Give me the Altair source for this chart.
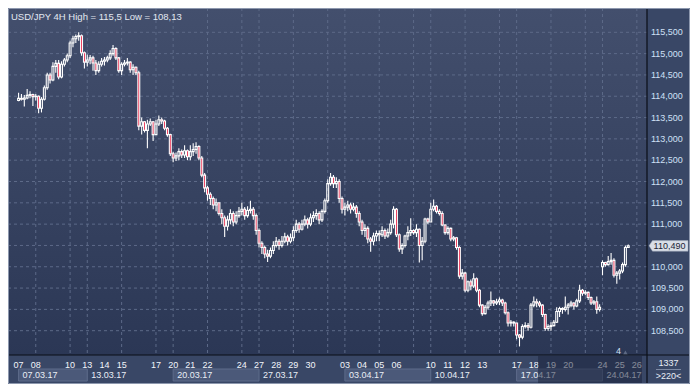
import altair as alt
import pandas as pd

# ---------------- data (USD/JPY 4H candles) ----------------
first_open = 113.90
gap_index = 204          # Monday 24.04 opens with a gap
gap_open = 110.00

closes = [
    113.95, 113.93, 113.96, 114.02, 114.04, 113.99,
    114.00, 113.72, 113.93, 114.20, 114.50, 114.38,
    114.70, 114.77, 114.45, 114.75, 114.85, 114.95,
    115.25, 115.35, 115.40, 115.42, 115.02, 114.80,
    114.85, 114.90, 114.78, 114.60, 114.75, 114.82,
    114.85, 114.90, 115.00, 115.12, 114.90, 114.60,
    114.75, 114.78, 114.80, 114.62, 114.68, 114.55,
    113.30, 113.40, 113.20, 113.35, 113.40, 113.10,
    113.35, 113.45, 113.42, 113.25, 113.10, 112.65,
    112.55, 112.60, 112.70, 112.62, 112.72, 112.58,
    112.70, 112.75, 112.82, 112.55, 112.15, 111.85,
    111.70, 111.60, 111.45, 111.50, 111.25, 111.15,
    110.95, 111.10, 111.25, 111.05, 111.20, 111.30,
    111.35, 111.20, 111.32, 111.35, 111.20, 110.85,
    110.55, 110.45, 110.30, 110.25, 110.38, 110.50,
    110.60, 110.50, 110.60, 110.70, 110.60, 110.68,
    110.85, 111.00, 110.88, 111.00, 111.10, 111.00,
    111.15, 111.20, 111.25, 111.10, 111.30, 111.55,
    111.95, 112.10, 111.95, 112.00, 111.60, 111.35,
    111.40, 111.45, 111.35, 111.40, 111.25, 111.05,
    110.85, 110.90, 110.65, 110.60, 110.72, 110.78,
    110.75, 110.85, 110.72, 110.80, 111.00, 111.35,
    110.75, 110.42, 110.50, 110.72, 110.80, 110.85,
    110.80, 110.88, 110.50, 110.60, 111.12, 111.05,
    111.35, 111.42, 111.30, 111.25, 110.98, 110.80,
    110.90, 110.65, 110.68, 110.45, 109.78, 109.85,
    109.45, 109.65, 109.55, 109.72, 109.45, 109.10,
    108.90, 109.05, 109.15, 109.20, 109.15, 109.18,
    109.22, 109.15, 108.92, 108.68, 108.70, 108.68,
    108.40, 108.35, 108.60, 108.62, 108.58, 109.10,
    109.18, 109.15, 109.10, 108.88, 108.55, 108.60,
    108.62, 108.70, 108.95, 109.02, 109.00, 109.05,
    109.10, 109.15, 109.08, 109.20, 109.45, 109.38,
    109.40, 109.28, 109.15, 109.18, 109.00, 109.05,
    110.10, 110.05, 110.12, 110.15, 109.80, 109.85,
    109.90, 110.05, 110.45, 110.49,
]
highs = [
    114.08, 114.05, 114.03, 114.17, 114.12, 114.06,
    114.05, 114.02, 113.98, 114.25, 114.55, 114.55,
    114.80, 114.85, 114.85, 114.82, 114.90, 115.00,
    115.30, 115.42, 115.45, 115.50, 115.45, 115.05,
    114.98, 114.97, 114.95, 114.85, 114.82, 114.90,
    114.92, 114.95, 115.08, 115.20, 115.15, 114.92,
    114.80, 114.85, 114.90, 114.82, 114.75, 114.70,
    114.60, 113.50, 113.42, 113.45, 113.48, 113.42,
    113.45, 113.55, 113.50, 113.45, 113.28, 113.12,
    112.70, 112.68, 112.78, 112.75, 112.85, 112.75,
    112.85, 112.90, 112.92, 112.85, 112.60, 112.20,
    111.90, 111.75, 111.65, 111.60, 111.50, 111.35,
    111.20, 111.20, 111.35, 111.30, 111.30, 111.40,
    111.50, 111.40, 111.42, 111.55, 111.40, 111.25,
    110.90, 110.60, 110.50, 110.40, 110.45, 110.60,
    110.70, 110.65, 110.72, 110.80, 110.75, 110.78,
    110.95, 111.10, 111.05, 111.10, 111.20, 111.15,
    111.25, 111.30, 111.35, 111.30, 111.35, 111.60,
    112.05, 112.20, 112.15, 112.10, 112.05, 111.65,
    111.50, 111.55, 111.50, 111.50, 111.45, 111.30,
    111.10, 111.00, 110.95, 110.70, 110.80, 110.85,
    110.85, 110.95, 110.90, 110.90, 111.10, 111.42,
    111.38, 110.78, 110.55, 110.75, 110.95, 111.14,
    110.88, 111.00, 110.90, 110.70, 111.15, 111.15,
    111.50, 111.58, 111.45, 111.35, 111.30, 111.00,
    110.95, 110.92, 110.72, 110.70, 110.48, 109.95,
    109.88, 109.68, 109.70, 109.85, 109.75, 109.48,
    109.12, 109.10, 109.20, 109.42, 109.22, 109.25,
    109.28, 109.25, 109.18, 108.95, 108.75, 108.72,
    108.65, 108.42, 108.65, 108.70, 108.68, 109.15,
    109.30, 109.25, 109.20, 109.12, 108.90, 108.65,
    108.70, 108.75, 109.05, 109.06, 109.05, 109.30,
    109.15, 109.20, 109.17, 109.25, 109.58, 109.48,
    109.45, 109.42, 109.30, 109.22, 109.30, 109.12,
    110.15, 110.12, 110.25, 110.32, 110.20, 109.90,
    109.95, 110.10, 110.50, 110.52,
]
lows = [
    113.88, 113.90, 113.76, 113.93, 113.95, 113.77,
    113.90, 113.60, 113.62, 113.90, 114.15, 114.30,
    114.35, 114.55, 114.40, 114.42, 114.70, 114.80,
    114.90, 115.15, 115.25, 115.30, 114.95, 114.65,
    114.70, 114.75, 114.60, 114.50, 114.55, 114.70,
    114.72, 114.80, 114.85, 114.95, 114.85, 114.55,
    114.50, 114.70, 114.72, 114.55, 114.50, 114.50,
    113.20, 113.10, 113.15, 112.78, 113.30, 112.95,
    113.10, 113.30, 113.35, 113.20, 113.05, 112.60,
    112.45, 112.48, 112.50, 112.55, 112.55, 112.50,
    112.50, 112.60, 112.65, 112.50, 112.10, 111.75,
    111.55, 111.45, 111.35, 111.30, 111.20, 111.00,
    110.70, 110.85, 111.00, 110.95, 111.00, 111.15,
    111.20, 111.10, 111.15, 111.25, 111.10, 110.75,
    110.45, 110.30, 110.20, 110.11, 110.20, 110.30,
    110.45, 110.40, 110.45, 110.55, 110.50, 110.55,
    110.60, 110.80, 110.80, 110.85, 110.95, 110.90,
    110.95, 111.05, 111.10, 111.00, 111.05, 111.25,
    111.50, 111.90, 111.85, 111.85, 111.50, 111.25,
    111.20, 111.30, 111.25, 111.30, 111.15, 110.95,
    110.75, 110.70, 110.55, 110.35, 110.50, 110.60,
    110.60, 110.70, 110.65, 110.68, 110.75, 110.90,
    110.70, 110.35, 110.30, 110.45, 110.62, 110.72,
    110.75, 110.70, 110.10, 110.15, 110.55, 111.00,
    111.05, 111.30, 111.25, 111.20, 110.95, 110.75,
    110.75, 110.60, 110.60, 110.40, 109.72, 109.70,
    109.40, 109.40, 109.45, 109.50, 109.40, 109.05,
    108.85, 108.88, 109.00, 109.08, 109.08, 109.10,
    109.10, 109.08, 108.88, 108.60, 108.60, 108.60,
    108.30, 108.13, 108.30, 108.55, 108.50, 108.55,
    109.05, 109.05, 109.05, 108.82, 108.50, 108.50,
    108.50, 108.60, 108.68, 108.82, 108.90, 108.95,
    108.88, 109.05, 109.00, 109.05, 109.15, 109.32,
    109.33, 109.22, 109.10, 109.10, 108.90, 108.95,
    109.80, 110.00, 110.03, 110.05, 109.75, 109.60,
    109.70, 109.85, 110.00, 110.44,
]

# trading-day numbers (0 = 07.03) and the day labels shown under the chart
day_num = [0, 1, 3, 4, 5, 6, 8, 9, 10, 11, 13, 14, 15, 16, 17, 19, 20, 21, 22,
           24, 25, 26, 27, 29, 30, 31, 32, 34, 35, 36]
day_text = ["07", "08", "10", "13", "14", "15", "17", "20", "21", "22", "24",
            "27", "28", "29", "30", "03", "04", "05", "06", "10", "11", "12",
            "13", "17", "18", "19", "20", "24", "25", "26"]
grid_days = [1, 3, 4, 6, 8, 9, 11, 13, 14, 16, 18, 19, 21, 23, 24, 26, 28, 29,
             31, 33, 34, 36]
week_day = [0, 4, 9, 14, 19, 24, 29, 34]
week_text = ["07.03.17", "13.03.17", "20.03.17", "27.03.17", "03.04.17",
             "10.04.17", "17.04.17", "24.04.17"]
week_box = [True, False, True, False, True, False, True, False]
price_ticks = [108.5, 109.0, 109.5, 110.0, 110.5, 111.0, 111.5, 112.0,
               112.5, 113.0, 113.5, 114.0, 114.5, 115.0, 115.5]
# 110,500 is hidden behind the current-price tag in the reference
price_labels = [108.5, 109.0, 109.5, 110.0, 111.0, 111.5, 112.0,
                112.5, 113.0, 113.5, 114.0, 114.5, 115.0, 115.5]
last_price = 110.49
title_text = "USD/JPY 4H High = 115,5 Low = 108,13"

# ---------------- layout / style ----------------
W, H = 639, 347
RP, BP = 43, 29
FONT = "Liberation Sans"
RED = "#e8173d"
CPD = 6  # candles per trading day

xscale = alt.Scale(domain=[-1.95, 217.8], nice=False, zero=False)
yscale = alt.Scale(domain=[107.93, 116.07], nice=False, zero=False)

n = len(closes)
opens = [first_open] + closes[:-1]
opens[gap_index] = gap_open
df = pd.DataFrame({"i": list(range(n)), "o": opens, "h": highs, "l": lows, "c": closes})
df["top"] = df[["o", "c"]].max(axis=1)
df["bot"] = df[["o", "c"]].min(axis=1)
df["down"] = df["c"] < df["o"]

one = pd.DataFrame({"k": [0]})


def X(f):
    return alt.X(f, type="quantitative", scale=xscale, axis=None)


def Y(f):
    return alt.Y(f, type="quantitative", scale=yscale, axis=None)


grad = alt.Gradient(gradient="linear",
                    stops=[alt.GradientStop(color="#434f6d", offset=0),
                           alt.GradientStop(color="#2b3755", offset=1)],
                    x1=0, x2=0, y1=0, y2=1)
bg = alt.Chart(one).mark_rect(color=grad).encode(
    x=alt.value(0), x2=alt.value(W), y=alt.value(0), y2=alt.value(H))

hgrid = alt.Chart(pd.DataFrame({"p": price_ticks})).mark_rule(
    color="#5d6a88", strokeDash=[3, 3], strokeWidth=1).encode(
    y=Y("p"), x=alt.value(0), x2=alt.value(W))
ylab = alt.Chart(pd.DataFrame({"p": price_labels})).transform_calculate(
    lbl="replace(format(datum.p, '.3f'), '.', ',')").mark_text(
    align="left", baseline="middle", font=FONT, fontSize=9, color="#cfe0f6").encode(
    y=Y("p"), x=alt.value(W + 4), text="lbl:N")

vgrid = alt.Chart(pd.DataFrame({"g": [d * CPD for d in grid_days]})).mark_rule(
    color="#5d6a88", strokeDash=[3, 3], strokeWidth=1).encode(
    x=X("g"), y=alt.value(0), y2=alt.value(H))

wick_up = alt.Chart(df).mark_rule(color="white", strokeWidth=1.1).encode(
    x=X("i"), y=Y("h"), y2="top")
wick_dn = alt.Chart(df).mark_rule(color="white", strokeWidth=1.1).encode(
    x=X("i"), y=Y("bot"), y2="l")
bodies = alt.Chart(df).mark_bar(size=1.9, stroke="white", strokeWidth=1.1).encode(
    x=X("i"), y=Y("top"), y2="bot",
    fill=alt.condition("datum.down", alt.value(RED), alt.value("transparent")))

title = alt.Chart(one).mark_text(
    text=title_text, align="left", baseline="alphabetic", font=FONT,
    fontSize=9.5, color="#e2e8f1").encode(x=alt.value(3), y=alt.value(12))

# bottom axis: week boxes, week labels, day labels
wk_next = week_day[1:] + [None]
wk = pd.DataFrame({
    "s": [d * CPD for d in week_day],
    "e": [d * CPD if d is not None else 217.8 for d in wk_next],
    "t": week_text, "box": week_box})
boxes = alt.Chart(wk).transform_filter("datum.box").mark_rect(
    fill="#4b5979", stroke="#5e6c8b", strokeWidth=1).encode(
    x=X("s"), x2="e", y=alt.value(H + 14), y2=alt.value(H + 26))
wk_lab = alt.Chart(wk).mark_text(
    align="left", dx=4, baseline="alphabetic", font=FONT, fontSize=9,
    color="#e9eef6").encode(x=X("s"), y=alt.value(H + 23), text="t")
days = pd.DataFrame({"x": [d * CPD for d in day_num], "t": day_text})
day_lab = alt.Chart(days).mark_text(
    align="center", baseline="alphabetic", font=FONT, fontSize=9,
    color="#f2f5fa").encode(x=X("x"), y=alt.value(H + 13), text="t")

overlay = alt.Chart(pd.DataFrame({"a": [181.5], "b": [217.8]})).mark_rect(
    fill="#182038", opacity=0.5).encode(
    x=X("a"), x2="b", y=alt.value(H + 1), y2=alt.value(H + BP))

marker_txt = alt.Chart(pd.DataFrame({"x": [209.6], "p": [108.03], "t": ["4"]})).mark_text(
    font=FONT, fontSize=9, color="#cfe0f6", baseline="middle").encode(
    x=X("x"), y=Y("p"), text="t")
marker_tri = alt.Chart(pd.DataFrame({"x": [212.0], "p": [107.985]})).mark_point(
    shape="triangle-up", filled=True, size=22, color="#5e6a85", opacity=1).encode(
    x=X("x"), y=Y("p"))

# separators and frame
vline = alt.Chart(one).mark_rule(color="#0a0e17", strokeWidth=1.2).encode(
    x=alt.value(W), y=alt.value(0), y2=alt.value(H + BP))
hline = alt.Chart(one).mark_rule(color="#0a0e17", strokeWidth=1.2).encode(
    y=alt.value(H), x=alt.value(0), x2=alt.value(W + RP))
frame = alt.Chart(one).mark_rect(fill=None, stroke="#8d98ae", strokeWidth=1).encode(
    x=alt.value(0.5), x2=alt.value(W + RP - 0.5), y=alt.value(0.5), y2=alt.value(H + BP - 0.5))

# current price tag
tag_path = "M-1,0L-0.82,-0.27L1,-0.27L1,0.27L-0.82,0.27Z"
price_df = pd.DataFrame({"p": [last_price]})
tag = alt.Chart(price_df).mark_point(
    shape=tag_path, filled=True, size=1521, color="#d9dee7", opacity=1,
    stroke="#9aa4b6", strokeWidth=0.5).encode(
    x=alt.value(W + 21.5), y=Y("p"))
tag_txt = alt.Chart(price_df).transform_calculate(
    lbl="replace(format(datum.p, '.3f'), '.', ',')").mark_text(
    font=FONT, fontSize=9, color="#1b2335", baseline="middle", align="center", dx=1).encode(
    x=alt.value(W + 21.5), y=Y("p"), text="lbl:N")

corner1 = alt.Chart(one).mark_text(
    text="1337", font=FONT, fontSize=9, color="#e9eef6", align="center",
    baseline="alphabetic").encode(x=alt.value(W + 21.5), y=alt.value(H + 11))
corner2 = alt.Chart(one).mark_text(
    text=">220<", font=FONT, fontSize=9, color="#e9eef6", align="center",
    baseline="alphabetic").encode(x=alt.value(W + 21.5), y=alt.value(H + 24))
corner_sep = alt.Chart(one).mark_rule(color="#7d89a3", strokeWidth=1).encode(
    y=alt.value(H + 14.5), x=alt.value(W + 9), x2=alt.value(W + 34))

chart = alt.layer(
    bg, hgrid, vgrid, wick_up, wick_dn, bodies, title, ylab,
    boxes, wk_lab, day_lab, overlay, marker_txt, marker_tri,
    vline, hline, tag, tag_txt, corner1, corner2, corner_sep, frame,
).properties(
    width=W, height=H,
    autosize=alt.AutoSizeParams(type="none"),
    padding={"left": 0, "top": 0, "right": RP, "bottom": BP},
    background="#394766",
).configure_view(stroke=None)

chart.save("out.html", embed_options={"renderer": "svg", "actions": False})
